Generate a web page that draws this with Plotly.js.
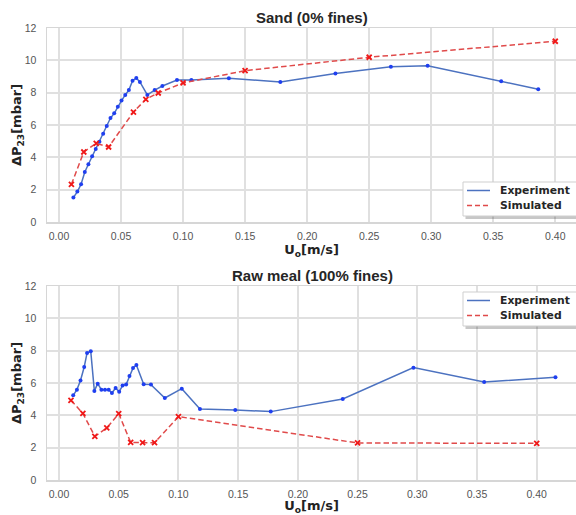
<!DOCTYPE html>
<html>
<head>
<meta charset="utf-8">
<script src="https://cdn.plot.ly/plotly-3.0.1.min.js"></script>
<style>html,body{margin:0;padding:0;background:#fff;}#chart{width:576px;height:515px;}</style>
</head>
<body>
<div id="chart"></div>
<script>
// Sand (0% fines)
const sandExpX = [0.0116,0.0148,0.0178,0.0208,0.0237,0.0267,0.0296,0.0326,0.0356,0.0385,0.0415,0.0445,0.0474,0.0504,0.0534,0.0563,0.0593,0.0623,0.0652,0.0712,0.0771,0.0833,0.0951,0.1067,0.1369,0.1784,0.2228,0.2675,0.2971,0.3564,0.3863];
const sandExpY = [1.51,1.88,2.33,3.09,3.57,4.06,4.52,4.97,5.46,5.94,6.43,6.72,7.13,7.51,7.86,8.16,8.74,8.91,8.66,7.86,8.16,8.41,8.78,8.78,8.89,8.66,9.18,9.61,9.67,8.70,8.21];
const sandSimX = [0.01,0.02,0.03,0.04,0.06,0.07,0.08,0.10,0.15,0.25,0.40];
const sandSimY = [2.33,4.33,4.87,4.64,6.80,7.59,7.98,8.60,9.36,10.19,11.18];
// Raw meal (100% fines)
const rawExpX = [0.0119,0.0150,0.0180,0.0211,0.0235,0.0266,0.0296,0.0324,0.0355,0.0385,0.0416,0.0443,0.0474,0.0504,0.0532,0.0562,0.0590,0.0620,0.0648,0.0709,0.0770,0.0886,0.1028,0.1180,0.1476,0.1773,0.2376,0.2968,0.3560,0.4157];
const rawExpY = [5.24,5.59,6.16,6.99,7.86,7.96,5.51,5.96,5.59,5.59,5.59,5.38,5.69,5.46,5.84,5.90,6.43,6.93,7.11,5.92,5.90,5.07,5.65,4.39,4.33,4.23,5.01,6.95,6.06,6.35];
const rawSimX = [0.01,0.02,0.03,0.04,0.05,0.06,0.07,0.08,0.10,0.25,0.40];
const rawSimY = [4.93,4.12,2.70,3.22,4.10,2.33,2.31,2.31,3.92,2.29,2.27];

const titles = ['Sand (0% fines)', 'Raw meal (100% fines)'];
const seriesNames = ['Experiment', 'Simulated'];
const xTickVals = [0,0.05,0.10,0.15,0.20,0.25,0.30,0.35,0.40];
const yTickVals = [0,2,4,6,8,10,12];

const blueLine = '#4c72c0', blueMarker = '#1f3ff0';
const redLine = '#e04a4a', redMarker = '#f01818';
const simDash = '5.5px,3px';

function expTrace(x, y, xa, ya, name) {
  return {x, y, xaxis: xa, yaxis: ya, name, mode: 'lines+markers', showlegend: false,
    line: {color: blueLine, width: 1.5}, marker: {color: blueMarker, size: 4, symbol: 'circle'}};
}
function simTrace(x, y, xa, ya, name) {
  return {x, y, xaxis: xa, yaxis: ya, name, mode: 'lines+markers', showlegend: false,
    line: {color: redLine, width: 1.5, dash: simDash}, marker: {color: redMarker, size: 5, symbol: 'x-thin', line: {color: redMarker, width: 1.8}}};
}

const data = [
  expTrace(sandExpX, sandExpY, 'x', 'y', seriesNames[0]),
  simTrace(sandSimX, sandSimY, 'x', 'y', seriesNames[1]),
  expTrace(rawExpX, rawExpY, 'x2', 'y2', seriesNames[0]),
  simTrace(rawSimX, rawSimY, 'x2', 'y2', seriesNames[1])
];

const M = {l: 47, r: 0, t: 28, b: 35}, W = 576, H = 515;
const pw = W - M.l - M.r, ph = H - M.t - M.b;
const px = v => (v - M.l) / pw;
const py = v => (H - M.b - v) / ph;

const tickFont = {family: 'Liberation Sans, Arial, sans-serif', size: 10.5, color: '#555'};
const axTitleFont = {family: 'DejaVu Sans, sans-serif', size: 13, color: '#222', weight: 'bold'};
const plotTitleFont = {family: 'Liberation Sans, Arial, sans-serif', size: 15, color: '#262626', weight: 'bold'};
const legFont = {family: 'DejaVu Sans, sans-serif', size: 10.8, color: '#262626', weight: 'bold'};
const gridC = '#e0e0e0';

function xAxis(range, anchor) {
  return {range, anchor, tickvals: xTickVals, tickformat: '.2f', showgrid: true, gridcolor: gridC, gridwidth: 2,
    zeroline: false, showline: true, linecolor: '#d6d6d6', linewidth: 1.5, mirror: true,
    ticks: 'outside', ticklen: 4, tickcolor: 'rgba(0,0,0,0)', tickfont: tickFont,
    title: {text: '<b>U<sub>o</sub>[m/s]</b>', font: axTitleFont, standoff: 3}};
}
function yAxis(domain, anchor) {
  return {range: [0, 12], domain, anchor, tickvals: yTickVals, showgrid: true, gridcolor: gridC, gridwidth: 2,
    zeroline: false, showline: true, linecolor: '#d6d6d6', linewidth: 1.5, mirror: true,
    ticks: 'outside', ticklen: 7, tickcolor: 'rgba(0,0,0,0)', tickfont: tickFont,
    title: {text: '<b>ΔP<sub>23</sub>[mbar]</b>', font: axTitleFont, standoff: 0}};
}

// manual legends (box top pixel, line rows)
function legendParts(boxTop) {
  const shapes = [], ann = [];
  const bx0 = 463, bx1 = 600, by0 = boxTop, by1 = boxTop + 34;
  shapes.push({type: 'rect', xref: 'paper', yref: 'paper', x0: px(bx0 + 2.5), x1: px(bx1 + 3), y0: py(by1 + 3), y1: py(by0 + 3),
    fillcolor: 'rgba(0,0,0,0.22)', line: {width: 0}, layer: 'above'});
  shapes.push({type: 'rect', xref: 'paper', yref: 'paper', x0: px(bx0), x1: px(bx1), y0: py(by1), y1: py(by0),
    fillcolor: '#ffffff', line: {color: '#cfcfcf', width: 1}, layer: 'above'});
  const rows = [{name: seriesNames[0], color: blueLine, dash: 'solid', y: by0 + 8.5},
                {name: seriesNames[1], color: redLine, dash: 'dash', y: by0 + 23.5}];
  rows.forEach(r => {
    shapes.push({type: 'line', xref: 'paper', yref: 'paper', x0: px(467), x1: px(490), y0: py(r.y), y1: py(r.y),
      line: {color: r.color, width: 1.5, dash: r.dash === 'dash' ? '5px,3px' : 'solid'}, layer: 'above'});
    ann.push({text: r.name, xref: 'paper', yref: 'paper', x: px(498), y: py(r.y), xanchor: 'left', yanchor: 'middle',
      showarrow: false, font: legFont});
  });
  return {shapes, ann};
}
const legTop = legendParts(182);
const legBot = legendParts(292);

const layout = {
  width: W, height: H,
  margin: M,
  paper_bgcolor: '#fff', plot_bgcolor: '#fff',
  showlegend: false,
  xaxis: xAxis([-0.00967, 0.4167], 'y'),
  yaxis: yAxis([py(222), 1], 'x'),
  xaxis2: xAxis([-0.01005, 0.4329], 'y2'),
  yaxis2: yAxis([0, py(286)], 'x2'),
  shapes: legTop.shapes.concat(legBot.shapes),
  annotations: [
    {text: '<b>' + titles[0] + '</b>', xref: 'paper', yref: 'paper', x: px(312), y: py(17), xanchor: 'center', yanchor: 'middle', showarrow: false, font: plotTitleFont},
    {text: '<b>' + titles[1] + '</b>', xref: 'paper', yref: 'paper', x: px(312), y: py(275), xanchor: 'center', yanchor: 'middle', showarrow: false, font: plotTitleFont}
  ].concat(legTop.ann, legBot.ann)
};

Plotly.newPlot('chart', data, layout, {displayModeBar: false, staticPlot: true});
</script>
</body>
</html>
